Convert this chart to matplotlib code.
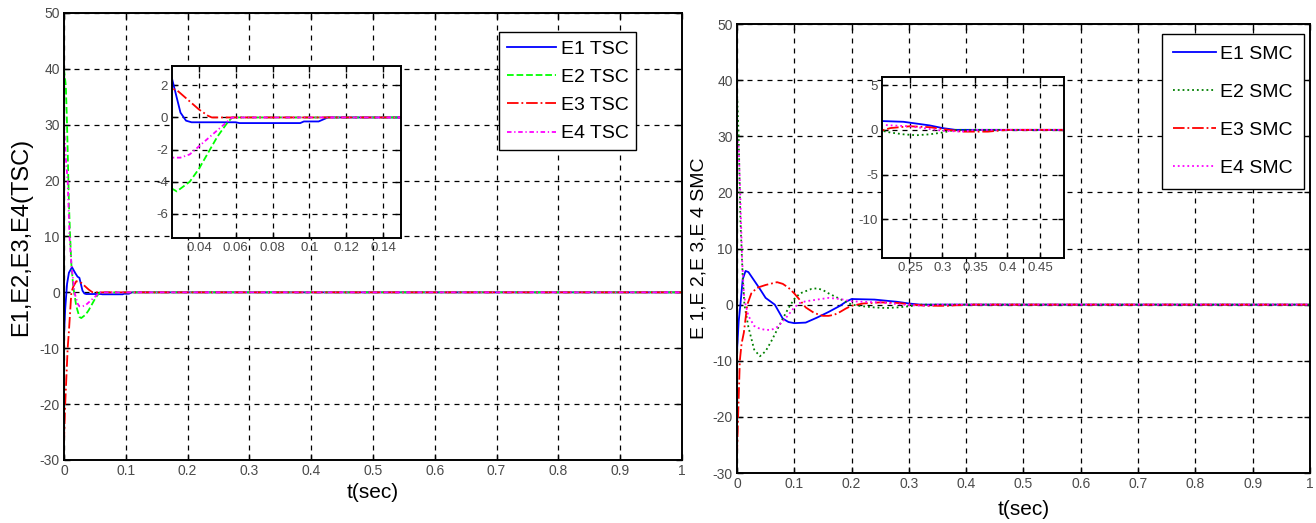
import matplotlib
matplotlib.use('Agg')
import matplotlib.pyplot as plt

plt.rcParams['font.family'] = ['Liberation Sans', 'DejaVu Sans']
plt.rcParams['axes.unicode_minus'] = False

# ---- TSC (left panel) ----
t_e1_tsc = [0, 0.002, 0.005, 0.008, 0.013, 0.018, 0.022, 0.025, 0.03, 0.033, 0.036,
            0.06, 0.062, 0.095, 0.097, 0.105, 0.108, 0.11, 1.0]
e1_tsc = [-8, -3, 1.5, 3.5, 4.5, 3.5, 2.8, 2.6, 0.3, -0.2, -0.3,
          -0.3, -0.35, -0.35, -0.25, -0.25, -0.1, 0, 0]
t_e2_tsc = [0, 0.003, 0.005, 0.008, 0.01, 0.012, 0.015, 0.02, 0.025, 0.028, 0.035,
            0.04, 0.045, 0.05, 0.055, 0.058, 1.0]
e2_tsc = [40, 37, 30, 16, 10, 5, 1, -2.5, -4.4, -4.6, -4.0,
          -3.2, -2.2, -1.2, -0.4, 0, 0]
t_e3_tsc = [0, 0.002, 0.006, 0.008, 0.012, 0.015, 0.02, 0.025, 0.028, 0.033, 0.04,
            0.045, 0.047, 1.0]
e3_tsc = [-27, -20, -10, -7, 0, 1, 2, 1.8, 1.7, 1.2, 0.5, 0.1, 0, 0]
t_e4_tsc = [0, 0.003, 0.006, 0.009, 0.012, 0.017, 0.022, 0.025, 0.03, 0.035, 0.04,
            0.045, 0.05, 0.055, 0.058, 1.0]
e4_tsc = [30, 24, 20, 10, 5, 0, -2, -2.5, -2.5, -2.3, -1.8, -1.3, -0.8, -0.3, 0, 0]

# ---- SMC (right panel) ----
t_e1_smc = [0, 0.003, 0.006, 0.01, 0.015, 0.02, 0.03, 0.04, 0.05, 0.066, 0.08, 0.09,
            0.1, 0.12, 0.14, 0.16, 0.18, 0.19, 0.2, 0.24, 0.26, 0.28, 0.3, 0.32, 1.0]
e1_smc = [-8.5, -3, 0, 4.5, 6, 5.8, 4.3, 2.8, 1.2, 0, -2.5, -3.1,
          -3.3, -3.2, -2.3, -1.3, -0.2, 0.5, 1.0, 0.9, 0.7, 0.5, 0.2, 0, 0]
t_e2_smc = [0, 0.003, 0.006, 0.01, 0.013, 0.02, 0.03, 0.04, 0.05, 0.06, 0.07, 0.08,
            0.09, 0.1, 0.11, 0.12, 0.13, 0.14, 0.15, 0.16, 0.17, 0.18, 0.19, 0.2,
            0.22, 0.24, 0.26, 0.28, 0.3, 0.32, 1.0]
e2_smc = [38, 30, 15, 5, 0, -4, -8, -9.2, -8.3, -6.5, -4.5, -2.5,
          -0.6, 1.0, 2, 2.4, 2.8, 2.9, 2.6, 2, 1.5, 1, 0.5, 0,
          -0.3, -0.5, -0.6, -0.5, -0.3, 0, 0]
t_e3_smc = [0, 0.002, 0.005, 0.008, 0.012, 0.018, 0.025, 0.035, 0.05, 0.07, 0.08,
            0.09, 0.1, 0.11, 0.12, 0.135, 0.15, 0.16, 0.17, 0.18, 0.19, 0.2, 0.22,
            0.25, 0.28, 0.3, 0.33, 0.37, 0.4, 1.0]
e3_smc = [-27, -20, -10, -7, -5, 0, 2, 3, 3.5, 4, 3.7,
          3, 2, 0.8, -0.5, -1.5, -2, -2, -1.8, -1.3, -0.7, -0.2, 0.2,
          0.4, 0.3, 0.1, -0.2, -0.2, 0, 0]
t_e4_smc = [0, 0.003, 0.005, 0.007, 0.009, 0.012, 0.015, 0.02, 0.03, 0.04, 0.05,
            0.06, 0.07, 0.08, 0.09, 0.1, 0.11, 0.12, 0.14, 0.16, 0.18, 0.2, 0.22,
            0.25, 0.3, 0.33, 0.35, 1.0]
e4_smc = [30, 28, 22, 15, 8, 2, 0, -2, -3.8, -4.3, -4.5,
          -4.5, -4, -3, -1.8, -0.5, 0.3, 0.6, 0.9, 1.2, 1.0, 0.6, 0.5,
          0.4, -0.1, -0.2, 0, 0]

main_xticks = [0, 0.1, 0.2, 0.3, 0.4, 0.5, 0.6, 0.7, 0.8, 0.9, 1]
main_xlabels = ['0', '0.1', '0.2', '0.3', '0.4', '0.5', '0.6', '0.7', '0.8', '0.9', '1']
main_yticks = [-30, -20, -10, 0, 10, 20, 30, 40, 50]

tsc_inset_xticks = [0.04, 0.06, 0.08, 0.1, 0.12, 0.14]
tsc_inset_yticks = [-6, -4, -2, 0, 2]
smc_inset_xticks = [0.25, 0.3, 0.35, 0.4, 0.45]
smc_inset_yticks = [-10, -5, 0, 5]

GRID = dict(color='black', linestyle=(0, (4, 4)), linewidth=0.9)
TICKC = '#4a4a4a'

tsc_series = [
    (t_e1_tsc, e1_tsc, 'E1 TSC', 'blue', '-'),
    (t_e2_tsc, e2_tsc, 'E2 TSC', '#00ff00', '--'),
    (t_e3_tsc, e3_tsc, 'E3 TSC', 'red', '-.'),
    (t_e4_tsc, e4_tsc, 'E4 TSC', 'magenta', (0, (2.5, 1.5, 0.7, 1.5))),
]
smc_series = [
    (t_e1_smc, e1_smc, 'E1 SMC', 'blue', '-'),
    (t_e2_smc, e2_smc, 'E2 SMC', '#008000', ':'),
    (t_e3_smc, e3_smc, 'E3 SMC', 'red', '-.'),
    (t_e4_smc, e4_smc, 'E4 SMC', 'magenta', ':'),
]


def style_axes(ax, fs):
    ax.grid(True, **GRID)
    ax.tick_params(direction='in', top=True, right=True, length=4, width=1,
                   labelsize=fs, labelcolor=TICKC, pad=3)
    for sp in ax.spines.values():
        sp.set_linewidth(1.4)


def draw(ax, series):
    for t, y, lab, c, ls in series:
        ax.plot(t, y, color=c, linestyle=ls, linewidth=1.3, label=lab)


fig = plt.figure(figsize=(13.16, 5.23), dpi=100)

# left panel
ax1 = fig.add_axes([0.0486, 0.1205, 0.4696, 0.8547])
draw(ax1, tsc_series)
ax1.set_xlim(0, 1)
ax1.set_ylim(-30, 50)
ax1.set_xticks(main_xticks, main_xlabels)
ax1.set_yticks(main_yticks)
style_axes(ax1, 10)
ax1.set_xlabel('t(sec)', fontsize=15)
ax1.set_ylabel('E1,E2,E3,E4(TSC)', fontsize=17)
ax1.xaxis.set_label_coords(0.5, -0.052)
ax1.yaxis.set_label_coords(-0.052, 0.5)
leg1 = ax1.legend(loc='upper right', bbox_to_anchor=(0.926, 0.957), fontsize=14,
                  fancybox=False, edgecolor='black', framealpha=1,
                  handlelength=2.5, labelspacing=0.55, borderpad=0.4,
                  handletextpad=0.25, borderaxespad=0)
leg1.get_frame().set_linewidth(1.0)

ins1 = fig.add_axes([0.1307, 0.5449, 0.174, 0.3289])
draw(ins1, tsc_series)
ins1.set_xlim(0.0254, 0.1497)
ins1.set_ylim(-7.5, 3.2)
ins1.set_xticks(tsc_inset_xticks, ['0.04', '0.06', '0.08', '0.1', '0.12', '0.14'])
ins1.set_yticks(tsc_inset_yticks)
style_axes(ins1, 9.5)

# right panel
ax2 = fig.add_axes([0.560, 0.0956, 0.4354, 0.8585])
draw(ax2, smc_series)
ax2.set_xlim(0, 1)
ax2.set_ylim(-30, 50)
ax2.set_xticks(main_xticks, main_xlabels)
ax2.set_yticks(main_yticks)
style_axes(ax2, 10)
ax2.set_xlabel('t(sec)', fontsize=15)
ax2.set_ylabel('E 1,E 2,E 3,E 4 SMC', fontsize=14)
ax2.xaxis.set_label_coords(0.5, -0.06)
ax2.yaxis.set_label_coords(-0.052, 0.5)
leg2 = ax2.legend(loc='upper right', bbox_to_anchor=(0.990, 0.978), fontsize=14,
                  fancybox=False, edgecolor='black', framealpha=1,
                  handlelength=2.2, labelspacing=1.05, borderpad=0.6,
                  handletextpad=0.2, borderaxespad=0)
leg2.get_frame().set_linewidth(1.0)

ins2 = fig.add_axes([0.6702, 0.5067, 0.1383, 0.3461])
draw(ins2, smc_series)
ins2.set_xlim(0.207, 0.487)
ins2.set_ylim(-14.3, 5.9)
ins2.set_xticks(smc_inset_xticks, ['0.25', '0.3', '0.35', '0.4', '0.45'])
ins2.set_yticks(smc_inset_yticks)
style_axes(ins2, 9.5)

fig.savefig('out.png', dpi=100)
